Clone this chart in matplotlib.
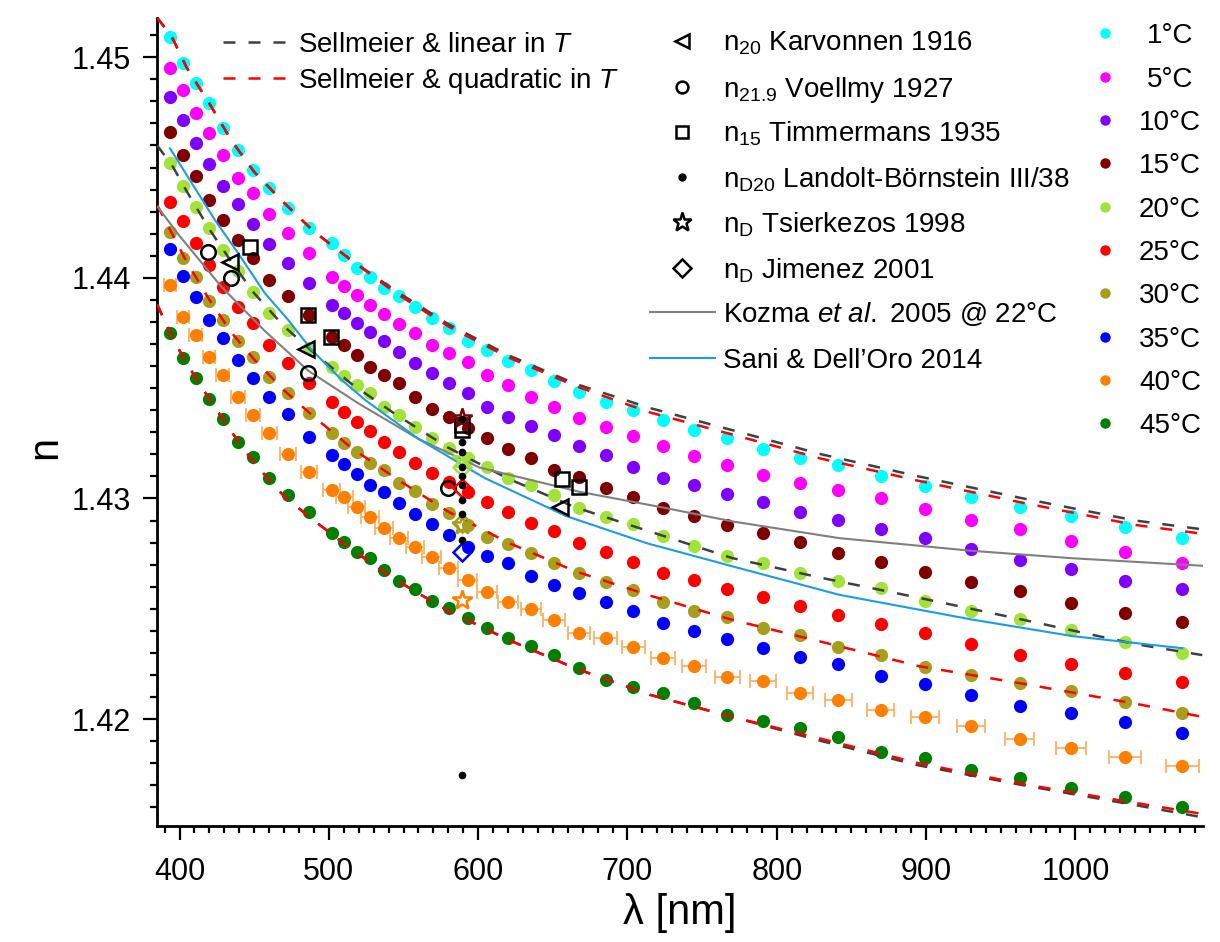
import matplotlib
matplotlib.use("Agg")
import matplotlib.pyplot as plt
from matplotlib.ticker import MultipleLocator, FixedLocator

plt.rcParams['font.family'] = ['Liberation Sans', 'DejaVu Sans']
plt.rcParams['mathtext.fontset'] = 'custom'
plt.rcParams['mathtext.rm'] = 'Liberation Sans'
plt.rcParams['mathtext.it'] = 'Liberation Sans:italic'
plt.rcParams['mathtext.bf'] = 'Liberation Sans:bold'

# ---- measured refractive index, wavelength grid [nm] ----
lam = [393.6, 402.5, 410.8, 419.7, 428.9, 438.9, 449.0, 460.1, 472.8, 486.7,
       501.9, 510.3, 518.6, 527.5, 537.1, 547.1, 557.6, 568.8, 580.4, 593.0,
       606.1, 620.2, 635.4, 650.8, 667.5, 685.4, 703.9, 723.6, 744.7, 766.8,
       790.8, 815.5, 841.2, 869.6, 899.1, 930.1, 962.7, 997.1, 1033.4, 1071.6]

n_1 = [1.4509, 1.44976, 1.44882, 1.44791, 1.44678, 1.4458, 1.44489, 1.44409, 1.44318, 1.44225,
       1.4416, 1.44104, 1.44043, 1.44005, 1.43953, 1.43918, 1.43867, 1.4382, 1.43771, 1.43714,
       1.43673, 1.43623, 1.43583, 1.43533, 1.43484, 1.43439, 1.43401, 1.43356, 1.4331, 1.43273,
       1.43223, 1.43182, 1.4315, 1.43102, 1.43057, 1.43008, 1.42963, 1.42921, 1.42869, 1.4282]
n_5 = [1.4495, 1.44852, 1.44749, 1.44655, 1.44557, 1.44454, 1.44383, 1.4429, 1.44202, 1.44112,
       1.44005, 1.43965, 1.43922, 1.43877, 1.43836, 1.43791, 1.43749, 1.43696, 1.43658, 1.4362,
       1.4356, 1.43514, 1.43459, 1.43416, 1.43364, 1.43325, 1.43283, 1.43238, 1.43194, 1.43152,
       1.43107, 1.43072, 1.4304, 1.43004, 1.42951, 1.42903, 1.42862, 1.42809, 1.42756, 1.42709]
n_10 = [1.44819, 1.44716, 1.44613, 1.44516, 1.44417, 1.44335, 1.44244, 1.44154, 1.44069, 1.43975,
        1.43877, 1.43839, 1.43797, 1.43756, 1.43715, 1.43665, 1.43616, 1.4357, 1.43525, 1.43477,
        1.43416, 1.43371, 1.43329, 1.43288, 1.4324, 1.43197, 1.43144, 1.43094, 1.43061, 1.4302,
        1.42985, 1.4294, 1.42902, 1.42862, 1.4282, 1.4277, 1.42721, 1.42679, 1.42627, 1.42588]
n_15 = [1.44663, 1.44557, 1.44462, 1.44353, 1.44262, 1.44172, 1.44089, 1.4399, 1.43918, 1.43832,
        1.43731, 1.43695, 1.4365, 1.43597, 1.4356, 1.43522, 1.43461, 1.43407, 1.43368, 1.43318,
        1.43273, 1.43223, 1.43182, 1.43129, 1.43099, 1.43046, 1.43008, 1.42955, 1.4292, 1.4288,
        1.42842, 1.42801, 1.42752, 1.42712, 1.42668, 1.4262, 1.42582, 1.42528, 1.42479, 1.42439]
n_20 = [1.44522, 1.44418, 1.44323, 1.44225, 1.44126, 1.44033, 1.43937, 1.43842, 1.43764, 1.43681,
        1.43597, 1.43555, 1.43514, 1.43477, 1.43416, 1.43378, 1.43325, 1.43273, 1.43227, 1.43182,
        1.43144, 1.43094, 1.43061, 1.43016, 1.42955, 1.42917, 1.42884, 1.4283, 1.42785, 1.42739,
        1.42706, 1.42664, 1.42628, 1.42593, 1.42537, 1.42491, 1.42452, 1.42404, 1.42348, 1.42298]
n_25 = [1.44345, 1.44258, 1.4416, 1.44058, 1.4396, 1.4387, 1.43794, 1.43696, 1.43613, 1.43522,
        1.43435, 1.4339, 1.43348, 1.43307, 1.43255, 1.43209, 1.43159, 1.43114, 1.43076, 1.4303,
        1.42983, 1.42937, 1.4289, 1.42854, 1.42799, 1.42756, 1.42713, 1.42664, 1.4263, 1.4259,
        1.42552, 1.42512, 1.4247, 1.42431, 1.42389, 1.42339, 1.4229, 1.42248, 1.42207, 1.42166]
n_30 = [1.44209, 1.44089, 1.44005, 1.43897, 1.43809, 1.43714, 1.43643, 1.43552, 1.43477, 1.43386,
        1.43298, 1.4325, 1.43209, 1.43159, 1.43129, 1.43068, 1.43035, 1.42975, 1.42933, 1.4288,
        1.42827, 1.42792, 1.42751, 1.42706, 1.4266, 1.42623, 1.42585, 1.42532, 1.42489, 1.42461,
        1.42411, 1.42382, 1.42328, 1.42291, 1.42238, 1.422, 1.42162, 1.42127, 1.42076, 1.42029]
n_35 = [1.4413, 1.44009, 1.43912, 1.43809, 1.43726, 1.43628, 1.43545, 1.43461, 1.43382, 1.4328,
        1.43197, 1.43156, 1.43111, 1.43061, 1.4303, 1.42978, 1.4293, 1.42884, 1.42834, 1.42781,
        1.42739, 1.42706, 1.4265, 1.42608, 1.4257, 1.42532, 1.42492, 1.42435, 1.42401, 1.42365,
        1.42324, 1.4228, 1.42248, 1.42193, 1.42159, 1.4211, 1.42061, 1.42029, 1.41987, 1.41939]
n_40 = [1.43968, 1.43824, 1.43741, 1.43643, 1.4356, 1.43461, 1.43378, 1.43296, 1.432, 1.43121,
        1.43038, 1.43005, 1.4296, 1.42917, 1.42867, 1.42819, 1.42781, 1.42736, 1.42683, 1.4263,
        1.42577, 1.42532, 1.425, 1.42448, 1.4239, 1.42366, 1.42325, 1.42275, 1.4224, 1.42189,
        1.42172, 1.42117, 1.42088, 1.42041, 1.42008, 1.41968, 1.41909, 1.41867, 1.41826, 1.41787]
lam_err_40 = [4.0, 4.0, 4.2, 4.3, 4.5, 4.6, 4.8, 5.0, 5.2, 5.4,
              5.5, 5.6, 5.7, 5.8, 5.9, 6.0, 6.1, 6.3, 6.4, 6.5,
              6.6, 6.8, 7.0, 7.1, 7.3, 7.5, 7.7, 7.9, 8.1, 8.4,
              8.6, 8.9, 9.0, 9.0, 9.3, 9.6, 9.9, 10.3, 10.7, 11.1]
n_45 = [1.43749, 1.43636, 1.43545, 1.43452, 1.4336, 1.43257, 1.43187, 1.43094, 1.43016, 1.4294,
        1.42845, 1.42804, 1.42759, 1.42729, 1.42676, 1.42626, 1.42588, 1.42537, 1.42502, 1.42457,
        1.42411, 1.42366, 1.42331, 1.42291, 1.4223, 1.42177, 1.42144, 1.42117, 1.42072, 1.42019,
        1.41993, 1.41958, 1.41919, 1.41852, 1.41822, 1.41771, 1.41733, 1.41686, 1.41648, 1.416]

temps = ['1', '5', '10', '15', '20', '25', '30', '35', '40', '45']
series = [n_1, n_5, n_10, n_15, n_20, n_25, n_30, n_35, n_40, n_45]
colors = ['#00FFFF', '#FF00FF', '#8000FF', '#800000', '#A2E33A',
          '#FF0000', '#A69F1E', '#0000FF', '#FF8000', '#008000']

# ---- Sellmeier fits ----
lam_fit = [385, 395, 405, 420, 435, 450, 470, 490, 515, 545,
           580, 620, 665, 715, 770, 830, 895, 965, 1040, 1085]
lin_1 = [1.4518, 1.4509, 1.4495, 1.4479, 1.4462, 1.4448, 1.4434, 1.4421, 1.4408, 1.4394,
         1.4379, 1.4365, 1.4352, 1.4341, 1.4331, 1.4320, 1.4310, 1.4300, 1.4290, 1.4286]
quad_1 = [1.4518, 1.4509, 1.4495, 1.4479, 1.4462, 1.4448, 1.4434, 1.4421, 1.4408, 1.4393,
          1.4378, 1.4364, 1.4351, 1.4339, 1.4329, 1.4318, 1.4308, 1.4298, 1.4288, 1.4284]
lin_20 = [1.4460, 1.4451, 1.4439, 1.4422, 1.4407, 1.4393, 1.4378, 1.4366, 1.4352, 1.4338,
          1.4323, 1.4309, 1.4296, 1.4285, 1.4273, 1.4264, 1.4255, 1.4245, 1.4234, 1.4229]
quad_30 = [1.4433, 1.4420, 1.4407, 1.4390, 1.4375, 1.4363, 1.4349, 1.4337, 1.4323, 1.4309,
           1.4294, 1.4280, 1.4267, 1.4256, 1.4245, 1.4235, 1.4224, 1.4216, 1.4207, 1.4201]
lin_45 = [1.4388, 1.4373, 1.4361, 1.4345, 1.4330, 1.4316, 1.4301, 1.4290, 1.4277, 1.4263,
          1.4249, 1.4236, 1.4223, 1.4211, 1.4201, 1.4190, 1.4179, 1.4170, 1.4161, 1.41555]
quad_45 = [1.4388, 1.4373, 1.4361, 1.4345, 1.4330, 1.4316, 1.4301, 1.4290, 1.4277, 1.4263,
           1.4249, 1.4236, 1.4223, 1.4211, 1.4201, 1.4191, 1.4180, 1.41705, 1.4162, 1.4157]

# ---- literature ----
lam_kozma = [385.5, 400, 428, 457, 486, 520, 560, 601, 668, 723, 771, 842, 930, 998, 1085]
n_kozma = [1.4432, 1.4419, 1.4396, 1.4376, 1.4358, 1.4343, 1.4327, 1.4314, 1.4303, 1.4296,
           1.42895, 1.4282, 1.42763, 1.42729, 1.42695]
lam_sani = [393.6, 423.7, 439.3, 457.2, 472.8, 488.5, 508.6, 524.2, 560, 604.5,
            659, 713, 771, 842, 930, 998, 1071.6]
n_sani = [1.44587, 1.44262, 1.44111, 1.4393, 1.43809, 1.43673, 1.43537, 1.43447, 1.4327, 1.43092,
          1.4292, 1.42797, 1.42691, 1.42563, 1.42452, 1.42376, 1.42321]

lam_karv = [433.8, 485.0, 654.9]
n_karv = [1.44073, 1.43676, 1.42963]
lam_voel = [419.2, 434.4, 486.2, 580.0]
n_voel = [1.44119, 1.43998, 1.4357, 1.43046]
lam_timm = [447.2, 486.1, 501.6, 589.3, 589.3, 656.3, 667.8]
n_timm = [1.44141, 1.43832, 1.43731, 1.43335, 1.4331, 1.43088, 1.43053]
lam_lb = [589.3] * 10
n_lb = [1.4336, 1.43257, 1.4321, 1.43144, 1.431, 1.4306, 1.42993, 1.4293, 1.42812, 1.41747]
lam_tsi = [589.3, 589.3, 589.3, 589.3]
n_tsi = [1.43364, 1.4318, 1.4288, 1.4254]
c_tsi = ['#800000', '#A2E33A', '#A69F1E', '#FF8000']
lam_jim = [589.3, 589.3, 589.3, 589.3]
n_jim = [1.43144, 1.43046, 1.4289, 1.42759]
c_jim = ['#A2E33A', '#FF0000', '#A69F1E', '#0000FF']

fig = plt.figure(figsize=(12.2, 9.42), dpi=100)
ax = fig.add_axes([0.1287, 0.1231, 0.8574, 0.8578])

for n, c, t in zip(series, colors, temps):
    if t == '40':
        ax.errorbar(lam, n, xerr=lam_err_40, fmt='o', color=c, ms=9.5, mec='none',
                    ecolor='#FFB066', elinewidth=1.3, capsize=5, capthick=1.3, zorder=2)
    else:
        ax.plot(lam, n, 'o', color=c, ms=9.5, mec='none', zorder=2)

dash = (4.8, 5.2)
lw_fit = 1.8
ax.plot(lam_fit, lin_1, color='#404040', lw=lw_fit, dashes=dash, zorder=3)
ax.plot(lam_fit, quad_1, color='#FF0000', lw=lw_fit, dashes=dash, zorder=3)
ax.plot(lam_fit, lin_20, color='#404040', lw=lw_fit, dashes=dash, zorder=3)
ax.plot(lam_fit, quad_30, color='#FF0000', lw=lw_fit, dashes=dash, zorder=3)
ax.plot(lam_fit, lin_45, color='#404040', lw=lw_fit, dashes=dash, zorder=3)
ax.plot(lam_fit, quad_45, color='#FF0000', lw=lw_fit, dashes=dash, zorder=3)

ax.plot(lam_kozma, n_kozma, color='#808080', lw=1.5, zorder=4)
ax.plot(lam_sani, n_sani, color='#1A9CE8', lw=1.5, zorder=4)

mk = dict(ls='none', mfc='none', mew=1.8, zorder=5)
ax.plot(lam_karv, n_karv, marker='<', ms=11, mec='k', **mk)
ax.plot(lam_voel, n_voel, marker='o', ms=10.5, mec='k', **mk)
ax.plot(lam_timm, n_timm, marker='s', ms=9.5, mec='k', **mk)
ax.plot(lam_lb, n_lb, 'o', color='k', ms=4.5, zorder=6)
for x, y, c in zip(lam_tsi, n_tsi, c_tsi):
    ax.plot(x, y, marker='*', ms=15, mec=c, **mk)
for x, y, c in zip(lam_jim, n_jim, c_jim):
    ax.plot(x, y, marker='D', ms=9.5, mec=c, **mk)

ax.set_xlim(384.9, 1085.5)
ax.set_ylim(1.41515, 1.45178)
ax.xaxis.set_major_locator(FixedLocator([400, 500, 600, 700, 800, 900, 1000]))
ax.xaxis.set_minor_locator(MultipleLocator(10))
ax.yaxis.set_major_locator(FixedLocator([1.42, 1.43, 1.44, 1.45]))
ax.yaxis.set_minor_locator(MultipleLocator(0.001))
ax.set_xticklabels(['400', '500', '600', '700', '800', '900', '1000'])
ax.set_yticklabels(['1.42', '1.43', '1.44', '1.45'])
ax.tick_params(which='major', direction='out', length=10, width=1.6, labelsize=22)
ax.tick_params(which='minor', direction='out', length=5, width=1.6)
ax.tick_params(axis='x', pad=12)
ax.tick_params(axis='y', pad=9)
for s in ['top', 'right']:
    ax.spines[s].set_visible(False)
for s in ['left', 'bottom']:
    ax.spines[s].set_linewidth(2)

ax.set_xlabel('λ [nm]', fontsize=30)
ax.set_ylabel('n', fontsize=30)
ax.yaxis.set_label_coords(-0.088, 0.468)
ax.xaxis.set_label_coords(0.5, -0.083)

# ---- legends drawn in axes coordinates ----
def fx(px):
    return (px - 157) / 1046

def fy(py):
    return (826 - py) / 808

tr = ax.transAxes
fs = 20
for py, c, lab in [(42, '#404040', 'Sellmeier & linear in $T$'),
                   (78, '#FF0000', 'Sellmeier & quadratic in $T$')]:
    ax.plot([fx(223), fx(288)], [fy(py), fy(py)], color=c, lw=lw_fit, dashes=dash,
            transform=tr, clip_on=False)
    ax.text(fx(298), fy(py + 10), lab, fontsize=fs, va='baseline', transform=tr)

lit_rows = [('<', 'n$_{\\mathrm{20}}$ Karvonnen 1916'),
            ('o', 'n$_{\\mathrm{21.9}}$ Voellmy 1927'),
            ('s', 'n$_{\\mathrm{15}}$ Timmermans 1935'),
            ('.', 'n$_{\\mathrm{D20}}$ Landolt-Börnstein III/38'),
            ('*', 'n$_{\\mathrm{D}}$ Tsierkezos 1998'),
            ('D', 'n$_{\\mathrm{D}}$ Jimenez 2001')]
lit_y = [41, 87, 132, 177, 222, 268]
lit_ms = [10, 8.5, 8, 5, 14, 9]
for (m, lab), py, ms in zip(lit_rows, lit_y, lit_ms):
    if m == '.':
        ax.plot([fx(682)], [fy(py)], 'o', color='k', ms=ms, transform=tr, clip_on=False)
    else:
        ax.plot([fx(682)], [fy(py)], marker=m, ms=ms, mec='k', mfc='none', mew=1.8,
                transform=tr, clip_on=False)
    ax.text(fx(723), fy(py + 10), lab, fontsize=fs, va='baseline', transform=tr)

ax.plot([fx(650), fx(715)], [fy(312), fy(312)], color='#808080', lw=1.5,
        transform=tr, clip_on=False)
ax.text(fx(723), fy(322), 'Kozma $et\\ al.$ 2005 @ 22°C', fontsize=fs, va='baseline',
        transform=tr)
ax.plot([fx(650), fx(715)], [fy(358), fy(358)], color='#1A9CE8', lw=1.5,
        transform=tr, clip_on=False)
ax.text(fx(723), fy(368), 'Sani & Dell’Oro 2014', fontsize=fs, va='baseline',
        transform=tr)

temp_y = [33, 77, 120, 163, 207, 250, 293, 337, 380, 423]
for t, c, py in zip(temps, colors, temp_y):
    ax.plot([fx(1105)], [fy(py)], 'o', color=c, ms=7.5, mec='none', transform=tr, clip_on=False)
    ax.text(fx(1170), fy(py + 10), t + '°C', fontsize=fs, va='baseline', ha='center',
            transform=tr)

fig.savefig('out.png', dpi=100)
